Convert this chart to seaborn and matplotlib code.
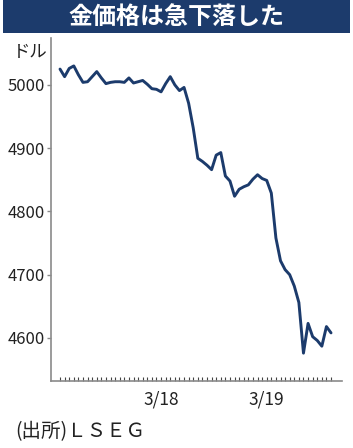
import numpy as np
import pandas as pd
import matplotlib
matplotlib.use("Agg")
import matplotlib.pyplot as plt
import seaborn as sns

# ---- data (hourly gold price, USD) ----
prices = [5025, 5013, 5026, 5030, 5016, 5004, 5005, 5013, 5021, 5011,
          5002, 5004, 5005, 5005, 5004, 5011, 5003, 5005, 5007, 5001,
          4994, 4993, 4989, 5002, 5013, 5000, 4991, 4996, 4971, 4932,
          4884, 4879, 4873, 4866, 4889, 4893, 4856, 4848, 4824, 4835,
          4839, 4842, 4851, 4858, 4852, 4849, 4829, 4758, 4722, 4708,
          4700, 4682, 4656, 4576, 4623, 4602, 4596, 4587, 4618, 4608]
date_labels = ["3/18", "3/19"]
date_start_index = [22, 45]
y_ticks = [4600, 4700, 4800, 4900, 5000]
title = "金価格は急下落した"
unit = "ドル"
source = "(出所)ＬＳＥＧ"

df = pd.DataFrame({"idx": np.arange(len(prices)), "price": prices})

sns.set_theme(style="white")
plt.rcParams["font.family"] = ["Noto Sans CJK JP", "DejaVu Sans"]

NAVY = "#1c3b6c"
GRAY = "#8a8a8a"
TXT = "#222222"

fig = plt.figure(figsize=(3.53, 4.48), dpi=100)
ax = fig.add_axes([0.1445, 0.1496, 0.8245, 0.7654])

sns.lineplot(data=df, x="idx", y="price", ax=ax, color=NAVY, linewidth=2.1)

ax.set_xlim(-1.96, 61.4)
ax.set_ylim(4532, 5074)

ax.set_yticks(y_ticks)
ax.set_yticklabels([str(v) for v in y_ticks], fontsize=12, color=TXT)
ax.set_xticks(date_start_index)
ax.set_xticklabels(date_labels, fontsize=12.5, color=TXT)
ax.set_xticks(np.arange(len(prices)), minor=True)

ax.tick_params(axis="y", which="major", direction="out", length=3, width=1,
               color=GRAY, pad=1.5, left=True)
ax.tick_params(axis="x", which="major", direction="in", length=3, width=0.8,
               color="#444444", pad=7, bottom=True)
ax.tick_params(axis="x", which="minor", direction="in", length=3, width=0.8,
               color="#444444", bottom=True)

for s in ["top", "right"]:
    ax.spines[s].set_visible(False)
for s in ["left", "bottom"]:
    ax.spines[s].set_color(GRAY)
    ax.spines[s].set_linewidth(1.2)

ax.set_xlabel("")
ax.set_ylabel("")
ax.grid(False)

# title banner
fig.patches.append(matplotlib.patches.Rectangle(
    (3 / 353, 1 - 33 / 448), 347 / 353, 33 / 448,
    transform=fig.transFigure, facecolor=NAVY, edgecolor="none", zorder=0))
fig.text(176 / 353, 1 - 17 / 448, title, color="white", fontsize=17.3,
         fontweight="bold", ha="center", va="center")

fig.text(13 / 353, 1 - 52 / 448, unit, fontsize=12.5, color=TXT,
         ha="left", va="center")
fig.text(15 / 353, 1 - 432 / 448, source, fontsize=14, color=TXT,
         ha="left", va="center")

fig.savefig("out.png", dpi=100)
